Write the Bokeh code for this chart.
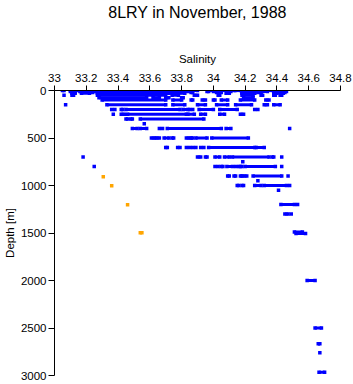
from bokeh.plotting import figure
from bokeh.models import Range1d, FixedTicker, ColumnDataSource, Title
from bokeh.embed import file_html
from bokeh.resources import INLINE

# ---------------- data ----------------
title_text = "8LRY in November, 1988"
x_label = "Salinity"
y_label = "Depth [m]"

x_ticks = [33, 33.2, 33.4, 33.6, 33.8, 34, 34.2, 34.4, 34.6, 34.8]
x_tick_labels = ["33", "33.2", "33.4", "33.6", "33.8", "34", "34.2", "34.4", "34.6", "34.8"]
y_ticks = [0, 500, 1000, 1500, 2000, 2500, 3000]
y_tick_labels = ["0", "500", "1000", "1500", "2000", "2500", "3000"]

# depth levels of the blue observations (m)
blue_levels = [0, 10, 20, 30, 50, 75, 100, 150, 200, 250, 300, 350, 400, 500, 600,
               700, 750, 800, 900, 950, 1000, 1050, 1200, 1300, 1490, 1505,
               2000, 2500, 2667, 2760, 2965]

# salinity runs (start, end) of adjacent observations at each level
blue_runs = [
    [(33.05, 33.06), (33.10, 33.15), (33.17, 33.33), (33.36, 33.75), (33.80, 33.84), (33.87, 33.90),
     (33.97, 34.01), (34.03, 34.13), (34.14, 34.17), (34.20, 34.32), (34.34, 34.37), (34.39, 34.45)],
    [(33.10, 33.13), (33.16, 33.25), (33.27, 33.83), (33.85, 33.86), (33.96, 33.97), (34.00, 34.05),
     (34.09, 34.11), (34.18, 34.26), (34.30, 34.34), (34.38, 34.42), (34.44, 34.46)],
    [(33.11, 33.13), (33.17, 33.24), (33.27, 33.80), (33.86, 33.87), (34.02, 34.05), (34.18, 34.26),
     (34.28, 34.30), (34.39, 34.41), (34.44, 34.45)],
    [(33.11, 33.13), (33.17, 33.22), (33.27, 33.72), (33.74, 33.82), (34.08, 34.10), (34.18, 34.26),
     (34.38, 34.40), (34.43, 34.44)],
    [(33.06, 33.06), (33.11, 33.12), (33.27, 33.70), (33.74, 33.78), (33.88, 33.90), (34.03, 34.04),
     (34.18, 34.25), (34.30, 34.31), (34.38, 34.39), (34.42, 34.43)],
    [(33.28, 33.58), (33.62, 33.66), (33.70, 33.72), (33.80, 33.81), (34.19, 34.25)],
    [(33.30, 33.70), (33.745, 33.80), (33.86, 33.87), (33.93, 33.95), (34.00, 34.01), (34.05, 34.09),
     (34.17, 34.26), (34.33, 34.35)],
    [(33.07, 33.07), (33.33, 33.70), (33.745, 33.82), (33.90, 33.95), (34.02, 34.09), (34.14, 34.24),
     (34.32, 34.34), (34.38, 34.42)],
    [(33.36, 33.38), (33.42, 33.43), (33.45, 33.79), (33.81, 33.84), (33.85, 33.87), (33.91, 34.00),
     (34.04, 34.15), (34.26, 34.28)],
    [(33.37, 33.37), (33.42, 33.44), (33.46, 33.83), (33.84, 33.88), (33.92, 33.95), (34.04, 34.07),
     (34.17, 34.19)],
    [(33.45, 33.46), (33.48, 33.49), (33.54, 33.94)],
    [(33.565, 33.565)],
    [(33.49, 33.52), (33.54, 33.58), (33.66, 33.68), (33.71, 34.05), (34.08, 34.11), (34.48, 34.48)],
    [(33.61, 33.63), (33.64, 33.66), (33.69, 33.72), (33.74, 33.75), (33.83, 33.85), (33.86, 33.87),
     (33.89, 33.96), (33.99, 34.22)],
    [(33.70, 33.71), (33.775, 33.79), (33.83, 33.85), (33.87, 33.89), (33.92, 33.94), (33.97, 34.26),
     (34.27, 34.32)],
    [(33.18, 33.18), (33.90, 33.92), (33.95, 33.96), (34.01, 34.04), (34.07, 34.10), (34.12, 34.35),
     (34.37, 34.38), (34.43, 34.43)],
    [(34.185, 34.185)],
    [(33.25, 33.25), (34.01, 34.03), (34.05, 34.06), (34.085, 34.12), (34.14, 34.16), (34.17, 34.18),
     (34.20, 34.39), (34.43, 34.43)],
    [(34.09, 34.10), (34.13, 34.14), (34.17, 34.18), (34.19, 34.21), (34.25, 34.43), (34.47, 34.47)],
    [(34.28, 34.28)],
    [(34.15, 34.16), (34.18, 34.19), (34.26, 34.30), (34.32, 34.46), (34.48, 34.48)],
    [(34.41, 34.41)],
    [(34.425, 34.51), (34.53, 34.53)],
    [(34.45, 34.47), (34.49, 34.49)],
    [(34.51, 34.56)],
    [(34.52, 34.58)],
    [(34.59, 34.64)],
    [(34.64, 34.68)],
    [(34.66, 34.67)],
    [(34.67, 34.67)],
    [(34.665, 34.70)],
]

# orange (flagged) observations
orange_salinity = [33.307, 33.36, 33.46, 33.54, 33.55]
orange_depth = [908, 1003, 1203, 1498, 1498]

BLUE = "#0000ff"
ORANGE = "#ffa500"

# ---------------- build sources ----------------
seg_d, seg_s0, seg_s1 = [], [], []
pt_d, pt_s = [], []
for d, runs in zip(blue_levels, blue_runs):
    for s0, s1 in runs:
        seg_d.append(d)
        seg_s0.append(s0)
        seg_s1.append(s1)
        pt_d.append(d)
        pt_s.append(s0)
        if s1 != s0:
            pt_d.append(d)
            pt_s.append(s1)

seg_src = ColumnDataSource(dict(d=seg_d, s0=seg_s0, s1=seg_s1))
pt_src = ColumnDataSource(dict(d=pt_d, s=pt_s))
or_src = ColumnDataSource(dict(d=orange_depth, s=orange_salinity))

# ---------------- figure ----------------
p = figure(width=353, height=384, output_backend="svg", toolbar_location=None,
           x_range=Range1d(33, 34.8), y_range=Range1d(3000, 0),
           x_axis_location="above", title=title_text,
           min_border_left=54, min_border_right=13, min_border_top=90, min_border_bottom=9)

p.title.text_font = "Liberation Sans"
p.title.text_font_size = "16px"
p.title.text_font_style = "normal"
p.title.align = "center"
p.title.vertical_align = "top"
p.title.text_color = "black"
p.title.standoff = 4

p.outline_line_color = None
p.xgrid.visible = False
p.ygrid.visible = False
p.background_fill_color = "white"
p.border_fill_color = "white"

for ax in (p.xaxis[0], p.yaxis[0]):
    ax.axis_label_text_font = "Liberation Sans"
    ax.axis_label_text_font_size = "11.5px"
    ax.axis_label_text_font_style = "normal"
    ax.axis_label_text_color = "black"
    ax.major_label_text_font = "Liberation Sans"
    ax.major_label_text_font_size = "11.5px"
    ax.major_label_text_color = "black"
    ax.axis_line_color = "black"
    ax.major_tick_line_color = "black"
    ax.minor_tick_line_color = None
    ax.major_tick_in = 0

p.xaxis[0].axis_label = x_label
p.xaxis[0].ticker = FixedTicker(ticks=x_ticks)
p.xaxis[0].major_label_overrides = {t: l for t, l in zip(x_ticks, x_tick_labels)}
p.xaxis[0].major_tick_out = 5
p.xaxis[0].major_label_standoff = 4
p.xaxis[0].axis_label_standoff = 6

# empty spacer between the axis block and the title
p.add_layout(Title(text=" ", text_font_size="1px", standoff=22), "above")

p.yaxis[0].axis_label = y_label
p.yaxis[0].ticker = FixedTicker(ticks=y_ticks)
p.yaxis[0].major_label_overrides = {t: l for t, l in zip(y_ticks, y_tick_labels)}
p.yaxis[0].major_tick_out = 6
p.yaxis[0].major_label_standoff = 2
p.yaxis[0].axis_label_standoff = 2

p.segment(x0="s0", y0="d", x1="s1", y1="d", source=seg_src, line_color=BLUE, line_width=3)
p.scatter(x="s", y="d", source=pt_src, marker="square", size=3.5, fill_color=BLUE, line_color=None)
p.scatter(x="s", y="d", source=or_src, marker="square", size=3.5, fill_color=ORANGE, line_color=None)

open("out.html", "w").write(file_html(p, INLINE))
